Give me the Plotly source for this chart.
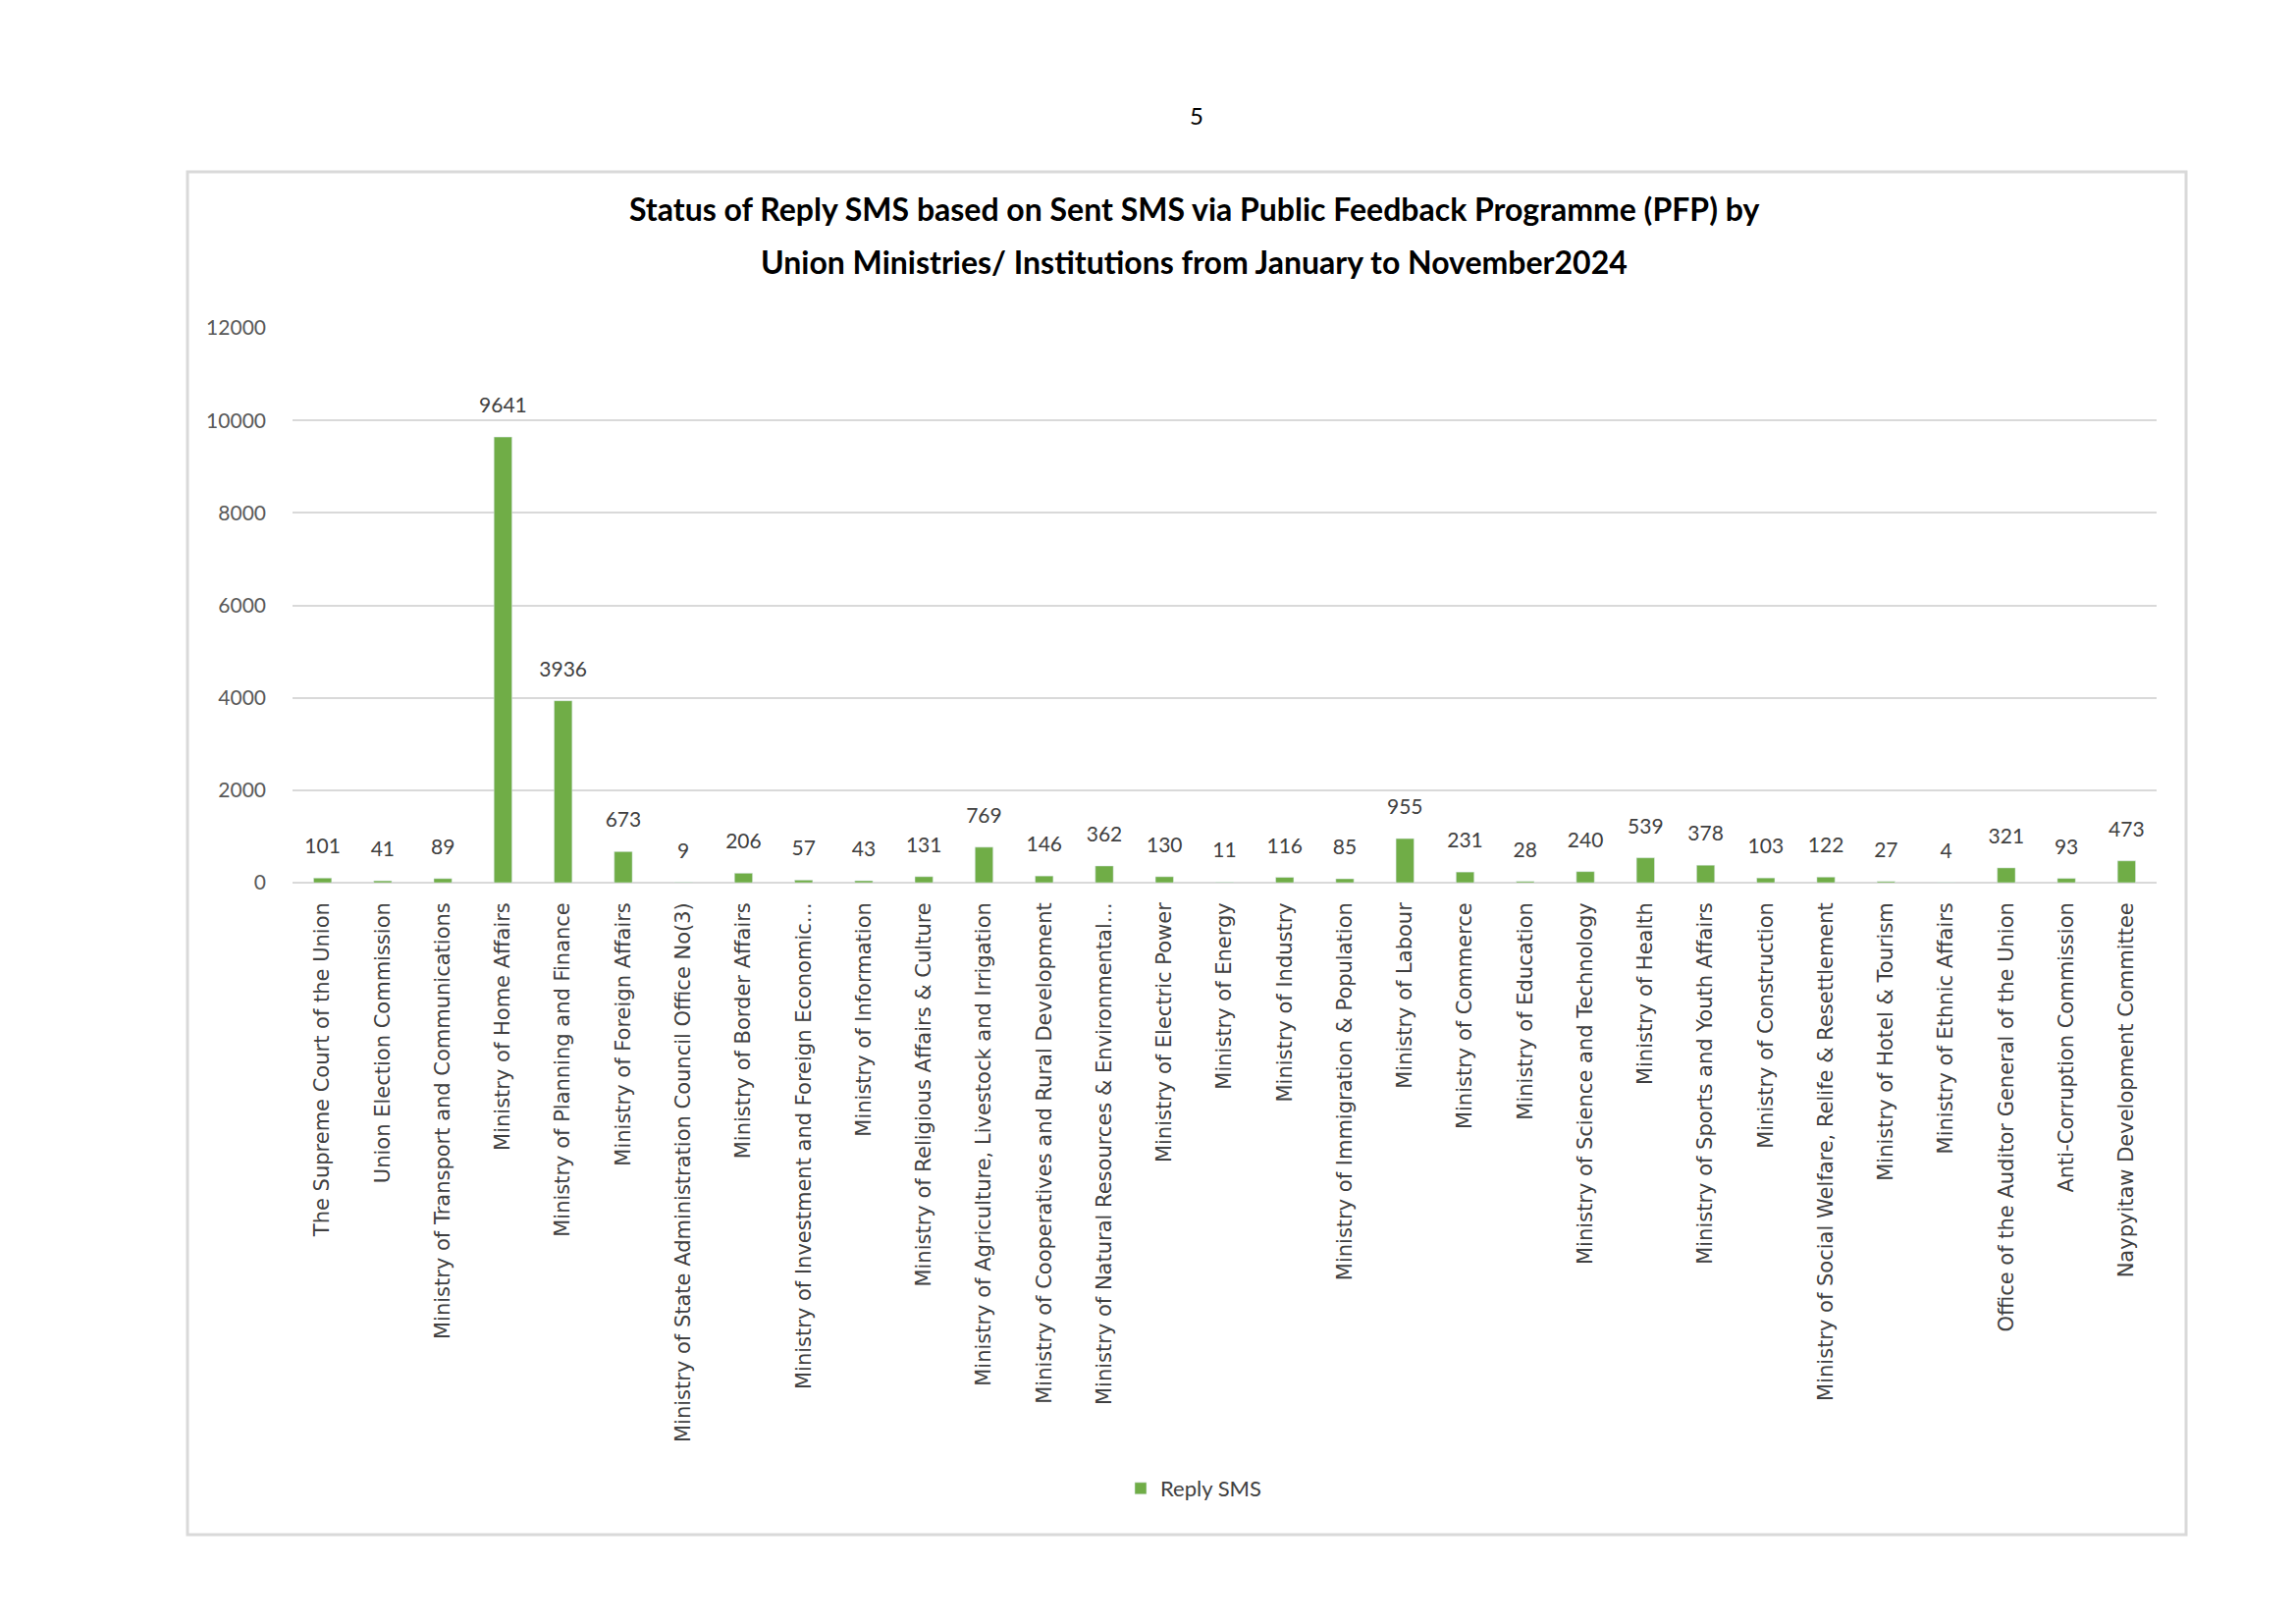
import plotly.graph_objects as go

W, H = 2339, 1654

institutions = [
    "The Supreme Court of the Union",
    "Union Election Commission",
    "Ministry of Transport and Communications",
    "Ministry of Home Affairs",
    "Ministry of Planning and Finance",
    "Ministry of Foreign Affairs",
    "Ministry of State Administration Council Office No(3)",
    "Ministry of Border Affairs",
    "Ministry of Investment and Foreign Economic…",
    "Ministry of Information",
    "Ministry of Religious Affairs & Culture",
    "Ministry of Agriculture, Livestock and Irrigation",
    "Ministry of Cooperatives and Rural Development",
    "Ministry of Natural Resources & Environmental…",
    "Ministry of Electric Power",
    "Ministry of Energy",
    "Ministry of Industry",
    "Ministry of Immigration & Population",
    "Ministry of Labour",
    "Ministry of Commerce",
    "Ministry of Education",
    "Ministry of Science and Technology",
    "Ministry of Health",
    "Ministry of Sports and Youth Affairs",
    "Ministry of Construction",
    "Ministry of Social Welfare, Relife & Resettlement",
    "Ministry of Hotel & Tourism",
    "Ministry of Ethnic Affairs",
    "Office of the Auditor General of the Union",
    "Anti-Corruption Commission",
    "Naypyitaw Development Committee",
]
reply_sms = [101, 41, 89, 9641, 3936, 673, 9, 206, 57, 43, 131, 769, 146, 362,
             130, 11, 116, 85, 955, 231, 28, 240, 539, 378, 103, 122, 27, 4,
             321, 93, 473]
y_ticks = [0, 2000, 4000, 6000, 8000, 10000, 12000]

title_lines = [
    "Status of Reply SMS based on Sent SMS via Public Feedback Programme (PFP) by",
    "Union Ministries/ Institutions from January to November2024",
]

# plot area in page pixels
L, R, T, B = 290, 2189, 326, 891
GREEN = "#70AD47"
FONT = "Lato, 'Noto Sans', sans-serif"


def px(x):
    return (x - L) / (R - L)


def py(y):
    return (B - y) / (B - T)


fig = go.Figure()
fig.add_trace(go.Bar(
    x=institutions,
    y=reply_sms,
    name="Reply SMS",
    marker_color=GREEN,
    width=0.3,
    hoverinfo="x+y",
))
# data labels, lifted a little above the bars like Excel does
fig.add_trace(go.Scatter(
    x=institutions,
    y=reply_sms,
    mode="markers+text",
    text=reply_sms,
    textposition="top center",
    textfont=dict(family=FONT, size=21, color="#404040"),
    marker=dict(size=30, opacity=0),
    showlegend=False,
    hoverinfo="skip",
    cliponaxis=False,
))

fig.update_layout(
    width=W,
    height=H,
    paper_bgcolor="white",
    plot_bgcolor="white",
    margin=dict(l=L, r=W - R, t=T, b=H - B),
    showlegend=True,
    legend=dict(x=px(1208), y=py(1508), xanchor="center", yanchor="middle",
                font=dict(family=FONT, size=22, color="#404040")),
    xaxis=dict(
        range=[-0.5, len(institutions) - 0.5],
        tickangle=-90,
        tickfont=dict(family="DejaVu Sans", size=21, color="#404040"),
        showgrid=False,
        showline=False,
        ticks="",
        ticklabelstandoff=15,
        automargin=False,
    ),
    yaxis=dict(
        range=[0, 12000],
        tickvals=y_ticks,
        tickformat="d",
        tickfont=dict(family=FONT, size=21, color="#595959"),
        showgrid=True,
        gridcolor="#D9D9D9",
        gridwidth=2,
        zeroline=True,
        zerolinecolor="#D9D9D9",
        zerolinewidth=2,
        showline=False,
        ticks="",
        ticklabelstandoff=26,
        automargin=False,
    ),
    annotations=[
        dict(text=title_lines[0], x=px(1208), y=py(205), xref="paper", yref="paper",
             showarrow=False, xanchor="center", yanchor="middle",
             font=dict(family=FONT, size=32, color="black", weight="bold")),
        dict(text=title_lines[1], x=px(1208), y=py(258), xref="paper", yref="paper",
             showarrow=False, xanchor="center", yanchor="middle",
             font=dict(family=FONT, size=32, color="black", weight="bold")),
        dict(text="5", x=px(1211), y=py(110), xref="paper", yref="paper",
             showarrow=False, xanchor="center", yanchor="middle",
             font=dict(family=FONT, size=24, color="black")),
    ],
    shapes=[
        dict(type="rect", xref="paper", yref="paper",
             x0=px(183), x1=px(2219), y0=py(1555), y1=py(167),
             line=dict(color="#D9D9D9", width=3), fillcolor="rgba(0,0,0,0)"),
    ],
)

fig.write_html("out.html")
